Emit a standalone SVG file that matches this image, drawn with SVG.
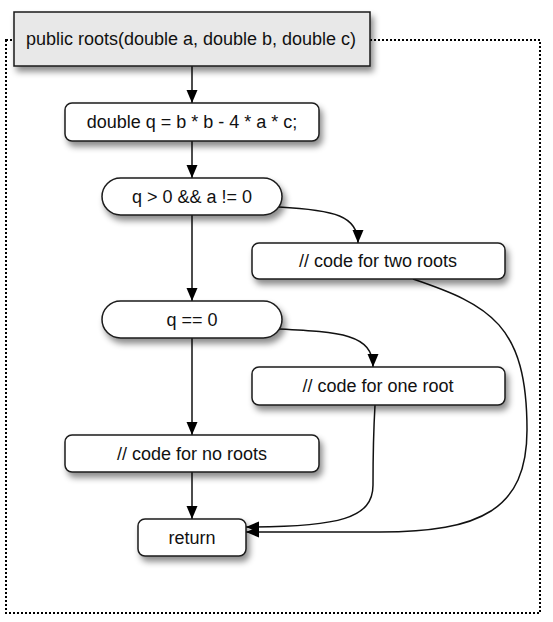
<svg xmlns="http://www.w3.org/2000/svg" width="553" height="622" viewBox="0 0 553 622">
<style>
.node{fill:#fff;stroke:#1a1a1a;stroke-width:1.5}
.start{fill:#e8e8e8;stroke:#1a1a1a;stroke-width:1.5}
.lbl{font-family:"Liberation Sans",Arial,sans-serif;font-size:18px;fill:#111;text-anchor:middle}
.edge{fill:none;stroke:#111;stroke-width:1.5}
.frame{fill:none;stroke:#000;stroke-width:2;stroke-dasharray:2 2;shape-rendering:crispEdges}
</style>
<defs>
<filter id="sh" x="-20%" y="-30%" width="150%" height="190%">
<feDropShadow dx="3" dy="5" stdDeviation="3" flood-color="#000" flood-opacity="0.45"/>
</filter>
<marker id="ah" markerUnits="userSpaceOnUse" markerWidth="14" markerHeight="14" viewBox="0 0 14 14" refX="13" refY="7" orient="auto">
<path d="M0,1.5 L13,7 L0,12.5 Z" fill="#000"/>
</marker>
</defs>
<rect class="frame" x="6" y="40" width="534" height="573"/>
<g id="connectors">
<path class="edge" d="M192,66 V103" marker-end="url(#ah)"/>
<path class="edge" d="M192,141 V178" marker-end="url(#ah)"/>
<path class="edge" d="M192,215 V301" marker-end="url(#ah)"/>
<path class="edge" d="M192,338 V435" marker-end="url(#ah)"/>
<path class="edge" d="M192,472 V519" marker-end="url(#ah)"/>
<path class="edge" d="M279,207 C335,210 358,216 358,243" marker-end="url(#ah)"/>
<path class="edge" d="M279,329 C340,332 373,334 373,367" marker-end="url(#ah)"/>
<path class="edge" d="M413,279 C490,305 527,325 527,430 C527,510 480,532 380,532 L246,532" marker-end="url(#ah)"/>
<path class="edge" d="M375,405 C373,440 373,470 373,485 C373,518 340,527 246,527" marker-end="url(#ah)"/>
</g>
<g id="start">
<rect class="start" x="14" y="12" width="356" height="54" filter="url(#sh)"/>
<text class="lbl" x="191" y="45">public roots(double a, double b, double c)</text>
</g>
<g id="calc">
<rect class="node" x="65" y="103" width="254" height="38" rx="7" filter="url(#sh)"/>
<text class="lbl" x="192" y="128">double q = b * b - 4 * a * c;</text>
</g>
<g id="cond1">
<rect class="node" x="102" y="178" width="180" height="37" rx="18.5" filter="url(#sh)"/>
<text class="lbl" x="192" y="203">q &gt; 0 &amp;&amp; a != 0</text>
</g>
<g id="two">
<rect class="node" x="252" y="243" width="253" height="36" rx="7" filter="url(#sh)"/>
<text class="lbl" x="378" y="267">// code for two roots</text>
</g>
<g id="cond2">
<rect class="node" x="102" y="301" width="180" height="37" rx="18.5" filter="url(#sh)"/>
<text class="lbl" x="192" y="326">q == 0</text>
</g>
<g id="one">
<rect class="node" x="252" y="367" width="253" height="38" rx="7" filter="url(#sh)"/>
<text class="lbl" x="378" y="392">// code for one root</text>
</g>
<g id="none">
<rect class="node" x="65" y="435" width="254" height="37" rx="7" filter="url(#sh)"/>
<text class="lbl" x="192" y="460">// code for no roots</text>
</g>
<g id="ret">
<rect class="node" x="138" y="519" width="108" height="37" rx="7" filter="url(#sh)"/>
<text class="lbl" x="192" y="544">return</text>
</g>
</svg>
